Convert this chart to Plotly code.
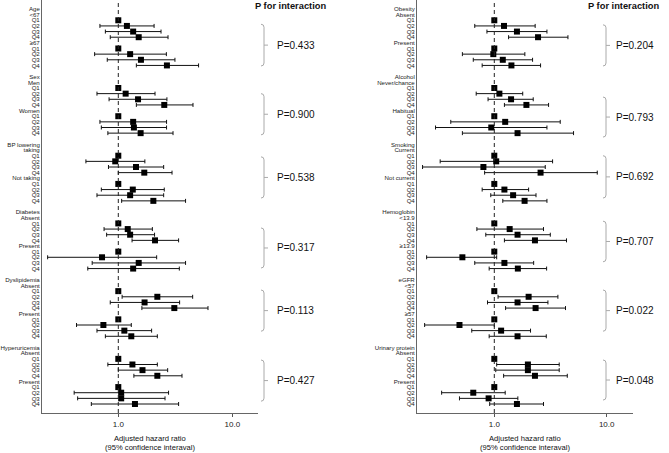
import plotly.graph_objects as go

W, H = 669, 453

QUARTILES = ["Q1", "Q2", "Q3", "Q4"]

LEFT_GROUPS = ["Age", "Sex", "BP lowering", "Diabetes", "Dyslipidemia", "Hyperuricemia"]
LEFT_SUBGROUPS = [["<67", "≥67"], ["Men", "Women"], ["taking", "Not taking"],
                  ["Absent", "Present"], ["Absent", "Present"], ["Absent", "Present"]]
LEFT_HR = [1.00, 1.19, 1.35, 1.51, 1.00, 1.27, 1.58, 2.67,
           1.00, 1.16, 1.49, 2.53, 1.00, 1.35, 1.37, 1.57,
           1.00, 0.94, 1.43, 1.69, 1.00, 1.34, 1.27, 2.03,
           1.00, 1.21, 1.27, 2.10, 1.00, 0.72, 1.51, 1.35,
           1.00, 2.20, 1.70, 3.10, 1.00, 0.74, 1.13, 1.30,
           1.00, 1.33, 1.63, 2.20, 1.00, 1.06, 1.06, 1.40]
LEFT_LO = [1.00, 0.69, 0.77, 0.85, 1.00, 0.62, 0.80, 1.44,
           1.00, 0.65, 0.83, 1.44, 1.00, 0.69, 0.71, 0.81,
           1.00, 0.52, 0.82, 1.00, 1.00, 0.71, 0.65, 1.07,
           1.00, 0.75, 0.79, 1.32, 1.00, 0.24, 0.59, 0.54,
           1.00, 1.08, 0.85, 1.61, 1.00, 0.43, 0.65, 0.77,
           1.00, 0.81, 1.00, 1.37, 1.00, 0.41, 0.44, 0.58]
LEFT_HI = [1.00, 2.06, 2.37, 2.73, 1.00, 2.64, 3.14, 5.06,
           1.00, 2.10, 2.67, 4.52, 1.00, 2.65, 2.65, 3.02,
           1.00, 1.71, 2.50, 2.96, 1.00, 2.53, 2.50, 3.89,
           1.00, 1.99, 2.08, 3.38, 1.00, 2.17, 3.89, 3.43,
           1.00, 4.49, 3.45, 6.12, 1.00, 1.30, 1.96, 2.20,
           1.00, 2.20, 2.71, 3.62, 1.00, 2.76, 2.57, 3.38]
LEFT_P = ["P=0.433", "P=0.900", "P=0.538", "P=0.317", "P=0.113", "P=0.427"]

RIGHT_GROUPS = ["Obesity", "Alcohol", "Smoking", "Hemoglobin", "eGFR", "Urinary protein"]
RIGHT_SUBGROUPS = [["Absent", "Present"], ["Never/chance", "Habitual"], ["Current", "Not current"],
                   ["<13.9", "≥13.9"], ["<57", "≥57"], ["Absent", "Present"]]
RIGHT_HR = [1.00, 1.22, 1.59, 2.45, 1.00, 0.98, 1.19, 1.42,
            1.00, 1.11, 1.41, 1.93, 1.00, 1.25, 0.94, 1.61,
            1.00, 1.04, 0.80, 2.58, 1.00, 1.23, 1.47, 1.86,
            1.00, 1.37, 1.61, 2.30, 1.00, 0.52, 1.23, 1.62,
            1.00, 2.02, 1.61, 2.33, 1.00, 0.49, 1.15, 1.61,
            1.00, 1.99, 1.99, 2.30, 1.00, 0.65, 0.89, 1.59]
RIGHT_LO = [1.00, 0.67, 0.86, 1.34, 1.00, 0.52, 0.65, 0.78,
            1.00, 0.69, 0.88, 1.23, 1.00, 0.41, 0.30, 0.52,
            1.00, 0.33, 0.23, 0.82, 1.00, 0.78, 0.93, 1.19,
            1.00, 0.70, 0.84, 1.23, 1.00, 0.25, 0.67, 0.90,
            1.00, 1.08, 0.87, 1.26, 1.00, 0.24, 0.63, 0.90,
            1.00, 1.05, 1.03, 1.21, 1.00, 0.34, 0.49, 0.91]
RIGHT_HI = [1.00, 2.31, 2.94, 4.52, 1.00, 1.87, 2.19, 2.58,
            1.00, 1.79, 2.22, 3.04, 1.00, 3.86, 2.94, 5.07,
            1.00, 3.30, 2.84, 8.24, 1.00, 2.02, 2.35, 2.94,
            1.00, 2.74, 3.15, 4.39, 1.00, 1.05, 2.24, 2.92,
            1.00, 3.68, 3.00, 4.30, 1.00, 1.00, 2.10, 2.90,
            1.00, 3.78, 3.78, 4.46, 1.00, 1.25, 1.62, 2.74]
RIGHT_P = ["P=0.204", "P=0.793", "P=0.692", "P=0.707", "P=0.022", "P=0.048"]

# layout positions (rows) of brackets: (top, bottom)
LEFT_BRACKETS = [(2.7, 10.1), (15.0, 22.3), (26.2, 33.5), (38.8, 45.9), (49.8, 57.1), (62.2, 69.5)]
RIGHT_BRACKETS = [(2.8, 10.1), (15.6, 22.7), (26.0, 33.5), (37.6, 44.8), (49.8, 57.1), (62.2, 69.3)]

FONT = "Arial, Liberation Sans, sans-serif"
ROW_PX = 395 / 70.0


def build(groups, subgroups, hr, lo, hi):
    tickvals, ticktext, ys = [], [], []
    for gi, g in enumerate(groups):
        base = gi * 12
        tickvals.append(base)
        ticktext.append(g)
        for si, s in enumerate(subgroups[gi]):
            r0 = base + 1 + si * 5
            tickvals.append(r0)
            ticktext.append(s)
            for qi, q in enumerate(QUARTILES):
                r = r0 + 1 + qi
                tickvals.append(r)
                ticktext.append(q)
                ys.append(r)
    plus = [h - m for h, m in zip(hi, hr)]
    minus = [m - l for m, l in zip(hr, lo)]
    return tickvals, ticktext, ys, plus, minus


fig = go.Figure()
annotations = []
shapes = []

panels = [
    (LEFT_GROUPS, LEFT_SUBGROUPS, LEFT_HR, LEFT_LO, LEFT_HI, LEFT_P, LEFT_BRACKETS,
     "x", "y", [42, 258], 118.3, 114.0, 264, 275, 254),
    (RIGHT_GROUPS, RIGHT_SUBGROUPS, RIGHT_HR, RIGHT_LO, RIGHT_HI, RIGHT_P, RIGHT_BRACKETS,
     "x2", "y2", [417, 633], 494.3, 112.4, 606, 614, 587),
]

ydom = [40 / H, 1.0]
yrange = [70 + 9 / ROW_PX, -9 / ROW_PX]

for idx, (groups, subs, hr, lo, hi, pv, brk, xa, ya, xpx, one_px, dec_px, bx, tx, ptx) in enumerate(panels):
    tickvals, ticktext, ys, plus, minus = build(groups, subs, hr, lo, hi)
    fig.add_trace(go.Scatter(
        x=hr, y=ys, mode="markers", xaxis=xa, yaxis=ya,
        marker=dict(symbol="square", size=6, color="black"),
        error_x=dict(type="data", symmetric=False, array=plus, arrayminus=minus,
                     width=2, thickness=1, color="#111"),
        showlegend=False, hoverinfo="skip",
    ))
    xr = [(xpx[0] - one_px) / dec_px, (xpx[1] - one_px) / dec_px]
    axkey = "xaxis" if xa == "x" else "xaxis2"
    aykey = "yaxis" if ya == "y" else "yaxis2"
    fig.update_layout(**{
        axkey: dict(type="log", range=xr, domain=[xpx[0] / W, xpx[1] / W], anchor=ya,
                    tickvals=[1, 10], ticktext=["1.0", "10.0"], ticks="outside", ticklen=3,
                    tickcolor="#555", tickfont=dict(size=8, color="#222", family=FONT),
                    showline=True, linecolor="#666", linewidth=1, showgrid=False,
                    zeroline=False, automargin=False),
        aykey: dict(range=yrange, domain=ydom, anchor=xa, tickvals=tickvals, ticktext=ticktext,
                    ticks="", tickfont=dict(size=6.1, color="#222", family=FONT),
                    showline=True, linecolor="#666", linewidth=1, showgrid=False,
                    zeroline=False, automargin=False, ticklabelstandoff=0),
    })
    # dashed reference line at HR = 1
    shapes.append(dict(type="line", xref=xa, yref="paper", x0=1, x1=1, y0=ydom[0], y1=1,
                       line=dict(color="#222", width=1, dash="4px,3px")))
    # brackets and P values
    dx = 3 / W
    dy = 3 / ROW_PX
    bxp = bx / W
    for (top, bot), p in zip(brk, pv):
        path = (f"M {bxp - dx},{top} Q {bxp},{top} {bxp},{top + dy} "
                f"L {bxp},{bot - dy} Q {bxp},{bot} {bxp - dx},{bot}")
        shapes.append(dict(type="path", xref="paper", yref=ya, path=path,
                           line=dict(color="#aaa", width=1)))
        mid = (top + bot) / 2
        shapes.append(dict(type="line", xref="paper", yref=ya, x0=bxp, x1=bxp + 4 / W,
                           y0=mid, y1=mid, line=dict(color="#aaa", width=1)))
        annotations.append(dict(text=p, xref="paper", yref=ya, x=tx / W, y=mid,
                                xanchor="left", yanchor="middle", showarrow=False,
                                font=dict(size=10, color="#111", family=FONT)))
    annotations.append(dict(text="<b>P for interaction</b>", xref="paper", yref="paper",
                            x=ptx / W, y=1, xanchor="left", yanchor="top", borderpad=0,
                            showarrow=False, font=dict(size=9.3, color="#111", family=FONT)))
    cx = (xpx[0] + xpx[1]) / 2 / W
    annotations.append(dict(text="Adjusted hazard ratio", xref="paper", yref="paper",
                            x=cx, y=1 - 438 / H, xanchor="center", yanchor="middle",
                            borderpad=0, showarrow=False,
                            font=dict(size=7.6, color="#111", family=FONT)))
    annotations.append(dict(text="(95% confidence interaval)", xref="paper", yref="paper",
                            x=cx, y=1 - 447 / H, xanchor="center", yanchor="middle",
                            borderpad=0, showarrow=False,
                            font=dict(size=7.6, color="#111", family=FONT)))

fig.update_layout(
    width=W, height=H,
    margin=dict(l=0, r=0, t=0, b=0),
    paper_bgcolor="white", plot_bgcolor="white",
    shapes=shapes, annotations=annotations,
    font=dict(family=FONT),
)

fig.write_html("out.html", config={"displayModeBar": False},
               post_script="document.body.style.margin='0px';")
